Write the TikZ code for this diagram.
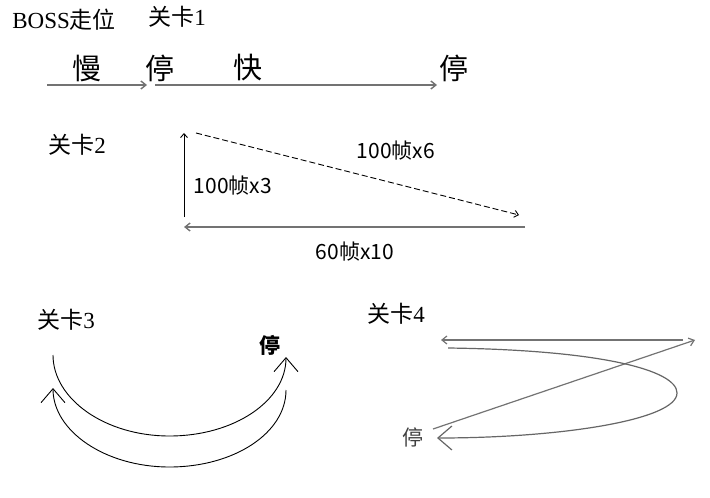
\documentclass[tikz,border=0pt]{standalone}
\usepackage{fontspec}
\setmainfont{Liberation Serif}
\newfontfamily\cjk{Noto Sans CJK SC}
\usetikzlibrary{arrows.meta,positioning}
\tikzset{
  titlelabel/.style={inner sep=0pt, anchor=west, font=\fontsize{11.5pt}{13pt}\selectfont},
  speedlabel/.style={inner sep=0pt, font=\cjk\fontsize{14.5pt}{17pt}\selectfont},
  framelabel/.style={inner sep=0pt, font=\cjk\fontsize{10.5pt}{13pt}\selectfont},
  stoplabel/.style={inner sep=0pt, font=\cjk\fontsize{10.5pt}{12pt}\selectfont},
  moveline/.style={-{Straight Barb[length=2.5pt,width=4pt]}, line width=0.7pt, draw=black!55},
  thinmove/.style={-{Straight Barb[length=2pt,width=3.5pt]}, line width=0.45pt},
  bigbarb/.style={-{Straight Barb[length=7pt,width=12pt]}, line width=0.45pt}
}
\begin{document}
\begin{tikzpicture}[x=0.5pt,y=-0.5pt]
\useasboundingbox (0,0) rectangle (710,497);
% titles
\node[titlelabel] (boss) at (12,20) {BOSS{\cjk 走位}};
\node[titlelabel] (lvl1) at (148,17) {{\cjk 关卡}1};
\node[titlelabel] (lvl2) at (48,145) {{\cjk 关卡}2};
\node[titlelabel] (lvl3) at (37,320) {{\cjk 关卡}3};
\node[titlelabel] (lvl4) at (367,314) {{\cjk 关卡}4};
% level 1
\node[speedlabel] (slow) at (87,68) {慢};
\node[speedlabel] (stopA) at (160,68) {停};
\node[speedlabel] (fast) at (248,68) {快};
\node[speedlabel] (stopB) at (454,68) {停};
\coordinate (p1) at (47,85);
\coordinate (p2) at (147,85);
\coordinate (p3) at (155,85);
\coordinate (p4) at (437,85);
\draw[moveline] (p1) -- (p2);
\draw[moveline] (p3) -- (p4);
% level 2
\coordinate (t1) at (184,217);
\coordinate (t2) at (184,133);
\coordinate (t3) at (196,133);
\coordinate (t4) at (519,215);
\coordinate (t5) at (525,227);
\coordinate (t6) at (184,227);
\draw[thinmove] (t1) -- (t2);
\draw[thinmove, dash pattern=on 3pt off 1.5pt] (t3) -- (t4);
\draw[moveline] (t5) -- (t6);
\node[framelabel] (upLabel) at (233,186) {100帧x3};
\node[framelabel] (diagLabel) at (396,151) {100帧x6};
\node[framelabel] (backLabel) at (355,252) {60帧x10};
% level 3
\node[stoplabel, font=\cjk\bfseries\fontsize{10.5pt}{12pt}\selectfont] (stop3) at (270,345) {停};
\coordinate (a1) at (53,355);
\coordinate (a2) at (286,357);
\coordinate (b1) at (286,390);
\coordinate (b2) at (53,388);
\draw[bigbarb] (a1) .. controls (53,399) and (105,436) .. (169.5,436)
  .. controls (234,436) and (286,401) .. (a2);
\draw[bigbarb] (b1) .. controls (286,433) and (234,467) .. (169.5,467)
  .. controls (105,467) and (53,431) .. (b2);
% level 4
\coordinate (c1) at (683,340);
\coordinate (c2) at (441,340);
\coordinate (c3) at (433,429);
\coordinate (c4) at (695,340);
\coordinate (c5) at (448,348);
\coordinate (c6) at (437,438);
\draw[moveline, line width=0.6pt] (c1) -- (c2);
\draw[moveline, line width=0.6pt] (c3) -- (c4);
\draw[bigbarb, draw=black!60, line width=0.6pt] (c5) .. controls (600,350) and (677,370) .. (677,393)
  .. controls (677,420) and (560,438) .. (c6);
\node[stoplabel, text=black!75] (stop4) at (413,437) {停};
\end{tikzpicture}
\end{document}
